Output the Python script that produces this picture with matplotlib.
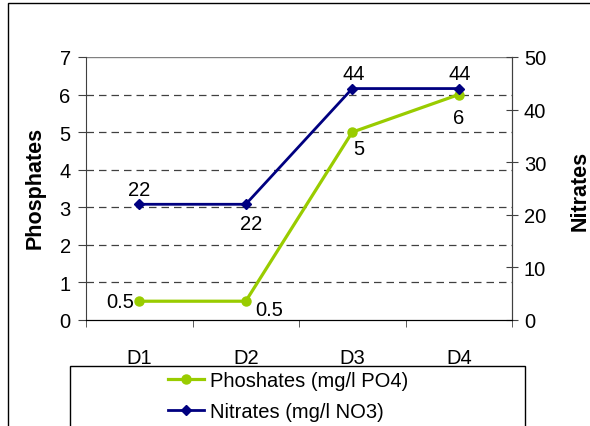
import matplotlib.pyplot as plt
import matplotlib.patches as mp
import numpy as np

plt.rcParams['font.family'] = ['Liberation Sans', 'DejaVu Sans']

days = ['D1', 'D2', 'D3', 'D4']
phos = [0.5, 0.5, 5, 6]
nitr = [22, 22, 44, 44]
phos_lbl = ['0.5', '0.5', '5', '6']
nitr_lbl = ['22', '22', '44', '44']

W, H = 590, 427
fig = plt.figure(figsize=(W/100, H/100), dpi=100)
ax = fig.add_axes([86/W, 1-321/H, 426/W, 263/H])
ax2 = ax.twinx()

x = np.arange(len(days))
green = '#99CC00'
navy = '#000080'

ax.set_xlim(-0.5, 3.5)
ax.set_ylim(0, 7)
ax2.set_ylim(0, 50)
for v in range(1, 7):
    ax.axhline(v, color='#404040', ls=(0, (6, 4)), lw=0.9, zorder=0)
ax.axhline(7, color='#808080', lw=1, zorder=0)

ax.plot(x, phos, color=green, lw=2.3, marker='o', ms=6.5, zorder=3)
ax2.plot(x, nitr, color=navy, lw=2, marker='D', ms=5, zorder=3)

fs = 14.5
kw = dict(textcoords='offset points', fontsize=fs)
# phosphate labels
ax.annotate(phos_lbl[0], (x[0], phos[0]), xytext=(-4, 0), ha='right', va='center', **kw)
ax.annotate(phos_lbl[1], (x[1], phos[1]), xytext=(7, 1), ha='left', va='top', **kw)
ax.annotate(phos_lbl[2], (x[2], phos[2]), xytext=(1, -5), ha='left', va='top', **kw)
ax.annotate(phos_lbl[3], (x[3], phos[3]), xytext=(0, -10), ha='center', va='top', **kw)
# nitrate labels
ax2.annotate(nitr_lbl[0], (x[0], nitr[0]), xytext=(0, 4), ha='center', va='bottom', **kw)
ax2.annotate(nitr_lbl[1], (x[1], nitr[1]), xytext=(4, -7), ha='center', va='top', **kw)
ax2.annotate(nitr_lbl[2], (x[2], nitr[2]), xytext=(1, 4), ha='center', va='bottom', **kw)
ax2.annotate(nitr_lbl[3], (x[3], nitr[3]), xytext=(1, 4), ha='center', va='bottom', **kw)

ax.set_xticks(x)
ax.set_xticklabels(days, fontsize=fs)
ax.set_xticks(np.arange(-0.5, 4, 1), minor=True)
ax.tick_params(axis='x', which='major', length=0, pad=20)
ax.tick_params(axis='x', which='minor', length=5, direction='out', color='#404040')
ax.set_yticks(range(0, 8))
ax.tick_params(axis='y', labelsize=fs, length=6, color='#404040', pad=5)
ax2.set_yticks(range(0, 51, 10))
ax2.tick_params(axis='y', labelsize=fs, length=9, direction='inout', color='#404040', pad=4)

for a in (ax, ax2):
    a.spines['top'].set_visible(False)
    a.spines['left'].set_color('#404040')
    a.spines['right'].set_color('#404040')
    a.spines['bottom'].set_color('black')
ax2.spines['left'].set_visible(False)

fig.text(35/W, 1-188/H, 'Phosphates', rotation=90, ha='center', va='center',
         fontsize=15.5, fontweight='bold')
fig.text(580/W, 1-191/H, 'Nitrates', rotation=90, ha='center', va='center',
         fontsize=15.5, fontweight='bold')

# outer chart border
fig.patches.append(mp.Rectangle((8/W, -0.1), 1.2, 1-4/H+0.1, transform=fig.transFigure,
                                fill=False, edgecolor='black', lw=1))
# legend box
fig.patches.append(mp.Rectangle((70/W, -0.1), 455/W, 1-367/H+0.1, transform=fig.transFigure,
                                fill=False, edgecolor='black', lw=1))
h1 = plt.Line2D([], [], color=green, lw=2.3, marker='o', ms=6.5)
h2 = plt.Line2D([], [], color=navy, lw=2, marker='D', ms=5)
fig.legend([h1, h2], ['Phoshates (mg/l PO4)', 'Nitrates (mg/l NO3)'],
           loc='upper left', bbox_to_anchor=(168/W, 1-372/H), frameon=False,
           fontsize=fs, handlelength=1.8, handletextpad=0.3, labelspacing=0.6,
           borderpad=0, borderaxespad=0)

fig.savefig('out.png', dpi=100)
